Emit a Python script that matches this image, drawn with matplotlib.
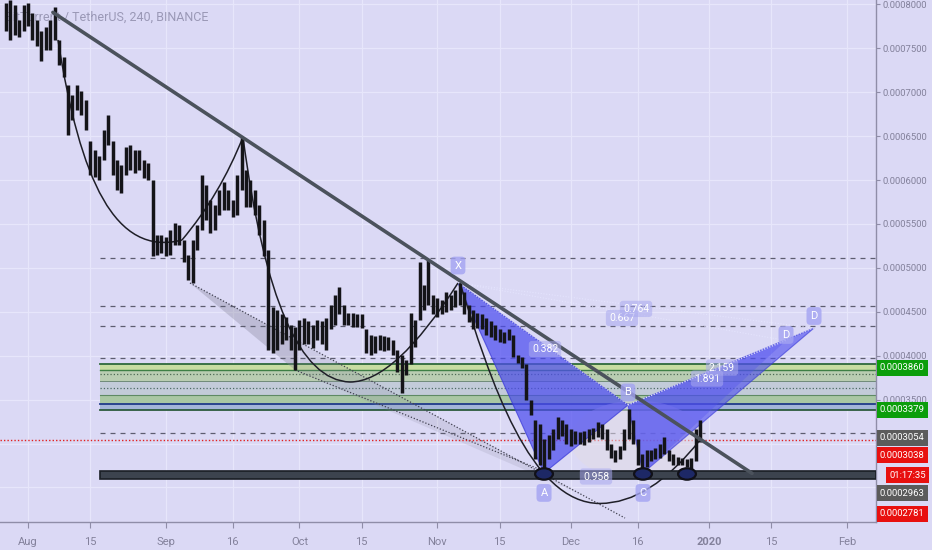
import numpy as np
import matplotlib
matplotlib.use("Agg")
import matplotlib.pyplot as plt
from matplotlib.patches import Polygon, Rectangle, Ellipse, PathPatch
from matplotlib.path import Path

# ---------------- data (prices in units of 1e-4 USDT) ----------------
UNIT = 1e-4
start_day = -5          # day offset from 2019-08-01 of the first daily bar
highs = [8.02, 8.05, 7.99, 7.82, 7.99,
         8.02, 7.90, 7.82, 7.70, 7.74, 7.82, 7.97, 7.59, 7.40, 7.08,
         6.97, 7.08, 7.02, 6.91, 6.45, 6.34, 6.28, 6.57, 6.74, 6.45,
         6.23, 6.17, 6.38, 6.40, 6.34, 6.34, 6.23, 6.19, 6.00, 5.38,
         5.38, 5.35, 5.43, 5.51, 5.49, 5.32, 5.15, 5.32, 5.49, 6.06,
         5.94, 5.77, 5.72, 5.89, 5.98, 5.89, 5.77, 6.06, 6.49, 6.11,
         6.00, 5.89, 5.72, 5.55, 5.20, 4.56, 4.52, 4.47, 4.44, 4.35,
         4.33, 4.41, 4.43, 4.39, 4.35, 4.41, 4.39, 4.43, 4.58, 4.69,
         4.78, 4.58, 4.49, 4.49, 4.47, 4.47, 4.30, 4.24, 4.22, 4.24,
         4.22, 4.21, 4.18, 4.07, 4.01, 3.95, 4.49, 4.41, 5.07, 4.81,
         5.09, 4.69, 4.66, 4.64, 4.72, 4.69, 4.75, 4.83, 4.73, 4.58,
         4.52, 4.49, 4.47, 4.43, 4.39, 4.35, 4.30, 4.27, 4.30, 4.24,
         4.01, 3.99, 3.90, 3.50, 3.27, 3.22, 3.05, 3.10, 3.16, 3.30,
         3.27, 3.22, 3.16, 3.14, 3.13, 3.14, 3.16, 3.18, 3.25, 3.22,
         3.16, 2.99, 2.93, 2.97, 3.16, 3.39, 3.27, 3.05, 2.88, 2.93,
         2.93, 2.95, 2.99, 3.07, 2.93, 2.88, 2.85, 2.84, 2.82, 2.84,
         3.16, 3.27]
lows = [7.70, 7.59, 7.65, 7.63, 7.70,
        7.76, 7.59, 7.53, 7.36, 7.48, 7.48, 7.59, 7.31, 7.17, 6.51,
        6.68, 6.80, 6.74, 6.57, 6.06, 6.03, 6.00, 6.23, 6.40, 6.06,
        5.89, 5.85, 6.06, 6.11, 6.08, 6.11, 6.02, 6.00, 5.13, 5.15,
        5.17, 5.13, 5.15, 5.26, 5.26, 5.07, 4.86, 4.83, 5.20, 5.43,
        5.55, 5.40, 5.43, 5.60, 5.66, 5.66, 5.58, 5.60, 5.89, 5.69,
        5.69, 5.60, 5.38, 5.13, 4.07, 4.03, 4.07, 4.13, 4.18, 4.07,
        3.84, 4.07, 4.13, 4.13, 4.09, 4.18, 4.13, 4.07, 4.30, 4.35,
        4.47, 4.35, 4.35, 4.33, 4.33, 4.32, 4.03, 4.01, 4.03, 4.07,
        4.05, 4.07, 4.01, 3.81, 3.58, 3.78, 3.90, 4.10, 4.41, 4.52,
        4.58, 4.47, 4.44, 4.47, 4.50, 4.52, 4.55, 4.58, 4.47, 4.38,
        4.30, 4.32, 4.30, 4.24, 4.21, 4.18, 4.16, 4.15, 4.18, 3.98,
        3.92, 3.86, 3.50, 3.33, 2.82, 2.76, 2.67, 2.82, 2.93, 3.05,
        3.08, 2.99, 2.97, 2.99, 2.99, 2.98, 3.02, 3.05, 3.07, 3.05,
        2.93, 2.84, 2.79, 2.82, 2.93, 3.05, 2.99, 2.76, 2.67, 2.73,
        2.80, 2.82, 2.84, 2.88, 2.80, 2.76, 2.75, 2.75, 2.73, 2.70,
        2.80, 3.02]

last_price = 3.038
x_ticks = [0, 14, 31, 46, 61, 75, 92, 106, 122, 137, 153, 167, 184]
x_labels = ["Aug", "15", "Sep", "16", "Oct", "15", "Nov", "15", "Dec", "16", "2020", "15", "Feb"]
y_ticks = [2.5, 3.0, 3.5, 4.0, 4.5, 5.0, 5.5, 6.0, 6.5, 7.0, 7.5, 8.0]

# drawings (day offset, price)
trend_days, trend_prices = [5.6, 162.7], [7.91, 2.66]
levels_start_day = 16.2
zone_edges = [3.905, 3.835, 3.79, 3.71, 3.635, 3.555, 3.45, 3.38]
support_band = [2.60, 2.69]
dashed_levels = [5.113, 4.566, 4.338, 3.974, 3.119]
cup1 = [(6.74, 7.596), (11.69, 6.001), (19.55, 5.118), (34.61, 5.318)]
cup1b = [(34.61, 5.318), (43.15, 5.830), (48.31, 6.491)]
cup2a = [(48.31, 6.491), (55.51, 3.723), (72.36, 3.700)]
cup2b = [(72.36, 3.700), (82.47, 3.700), (96.63, 4.828)]
cup3a = [(97.08, 4.828), (103.82, 3.723), (112.81, 2.317), (128.54, 2.317)]
cup3b = [(128.54, 2.317), (139.78, 2.317), (151.01, 3.040)]
line1 = [(36.40, 4.828), (134.16, 2.151)]
line2 = [(60.0, 3.837), (116.18, 2.681)]
shade1 = [(36.40, 4.828), (125.17, 2.402), (60.0, 3.837)]
shade2 = [(36.40, 4.828), (60.0, 4.179), (60.0, 3.837)]
pX, pA, pB, pC = (96.63, 4.828), (115.96, 2.664), (134.83, 3.438), (138.20, 2.664)
pD1, pD2 = (176.63, 4.315), (170.34, 4.173)
ellipse_days = [115.96, 138.20, 148.09]
ellipse_price = 2.653
pattern_labels = [("X", 96.63, 5.027), ("A", 115.96, 2.437), ("B", 134.83, 3.581),
                  ("C", 138.20, 2.437), ("D", 170.34, 4.236), ("D", 176.63, 4.452)]
ratio_labels = [("0.382", 116.18, 4.076), ("0.958", 127.64, 2.624), ("0.667", 133.48, 4.429),
                ("0.764", 136.63, 4.533), ("1.891", 152.58, 3.740), ("2.159", 155.96, 3.865)]
price_tags = [("0.0003860", "#0b9e0b", 368), ("0.0003379", "#0b9e0b", 410),
              ("0.0003054", "#5b5b5b", 438), ("0.0003038", "#e8100f", 455),
              ("01:17:35", "#e8100f", 475), ("0.0002963", "#5b5b5b", 493),
              ("0.0002781", "#e8100f", 514)]

# ---------------- figure ----------------
BG = "#dbd9f5"
FONT = ["Roboto", "DejaVu Sans"]
plt.rcParams["font.family"] = FONT

fig = plt.figure(figsize=(9.32, 5.5), dpi=100)
fig.patch.set_facecolor(BG)
ax = fig.add_axes([0, 28 / 550, 876 / 932, 522 / 550])
ax.set_facecolor(BG)
ax.set_xlim(-6.29, 190.56)
ax.set_ylim(2.106, 8.051)

for s in ["top", "left"]:
    ax.spines[s].set_visible(False)
for s in ["right", "bottom"]:
    ax.spines[s].set_color("#8f8da8")
    ax.spines[s].set_linewidth(1.0)

ax.yaxis.tick_right()
ax.set_yticks(y_ticks)
ax.set_yticklabels([f"{v * UNIT:.7f}" if v >= 3.5 else "" for v in y_ticks])
ax.set_xticks(x_ticks)
ax.set_xticklabels(x_labels)
ax.tick_params(axis="y", length=3, color="#8f8da8", labelcolor="#83819b", labelsize=6.8, pad=2)
ax.tick_params(axis="x", length=4, color="#8f8da8", labelcolor="#83819b", labelsize=8, pad=7)
for lab in ax.get_xticklabels():
    if lab.get_text() == "2020":
        lab.set_fontweight("bold")
ax.grid(True, color="#e7e6fb", lw=0.9)
ax.set_axisbelow(True)

xr = ax.get_xlim()[1]

ax.text(5 / 876, 1 - 17 / 522, "BitTorrent / TetherUS, 240, BINANCE", transform=ax.transAxes,
        color="#9a98b6", fontsize=9, va="center", ha="left", zorder=3.5)

# zone
zone_colors = ["#c8dda2", "#b9cdb2", "#b9cdb2", "#c2cbd9", "#c2cbd9", "#a9c7a4", "#a3b5d9"]
for i, c in enumerate(zone_colors):
    ax.add_patch(Rectangle((levels_start_day, zone_edges[i + 1]), xr - levels_start_day,
                           zone_edges[i] - zone_edges[i + 1], fc=c, ec="none", zorder=1))
edge_styles = [("#2f6a3c", "-", 1.3), ("#3d7f45", "-", 1.0), ("#4d6a55", ":", 0.9),
               ("#6f8a78", "-", 0.7), ("#4d6a65", ":", 0.9), ("#5e8a64", "-", 0.8),
               ("#1f3a8a", "-", 1.3), ("#2b5a3c", "-", 1.3)]
for lv, (c, ls, lw) in zip(zone_edges, edge_styles):
    ax.plot([levels_start_day, xr], [lv, lv], color=c, ls=ls, lw=lw, zorder=1.1)

for lv in dashed_levels:
    ax.plot([levels_start_day, xr], [lv, lv], color="#5d5d70", ls=(0, (4, 4)), lw=0.9, zorder=1.5)

ax.axhline(last_price, color="#e3201e", ls=(0, (1, 1.5)), lw=1.0, zorder=1.6)

# grey wedge + dotted lines
ax.add_patch(Polygon(shade1, closed=True, fc="#8a8aa0", alpha=0.18, ec="none", zorder=1.2))
ax.add_patch(Polygon(shade2, closed=True, fc="#8a8aa0", alpha=0.22, ec="none", zorder=1.2))
for ln in (line1, line2):
    ax.plot([p[0] for p in ln], [p[1] for p in ln], color="#404050", ls=(0, (1, 1.5)), lw=0.9, zorder=1.3)

# harmonic pattern
ax.add_patch(Ellipse((136.85, 3.04), 30, 0.9, fc="#e2dbe6", alpha=0.55, ec="none", zorder=1.7))
ax.add_patch(Polygon([pX, pA, pB], closed=True, fc="#4d4def", alpha=0.72, ec="#3838d8", lw=0.8, zorder=2))
ax.add_patch(Polygon([pB, pC, pD2], closed=True, fc="#5a5af0", alpha=0.35, ec="none", zorder=2))
ax.add_patch(Polygon([pB, pC, pD1], closed=True, fc="#4d4def", alpha=0.62, ec="#3838d8", lw=0.8, zorder=2))
for a, b in [(pX, pB), (pA, pC), (pB, pD1), (pB, pD2), (pX, pD1), (pX, pD2)]:
    ax.plot([a[0], b[0]], [a[1], b[1]], color="#e6e6ff", ls=(0, (1, 1.5)), lw=0.8, alpha=0.8, zorder=2.1)

# arcs
def bez(pts):
    codes = [Path.MOVETO] + ([Path.CURVE4] * 3 if len(pts) == 4 else [Path.CURVE3] * 2)
    return PathPatch(Path(pts, codes), fill=False, ec="#1f1f28", lw=1.1, zorder=3)

for cv in (cup1, cup1b, cup2a, cup2b, cup3a, cup3b):
    ax.add_patch(bez(cv))

# price bars
days = np.arange(start_day, start_day + len(highs))
ax.vlines(days, lows, highs, color="#141418", lw=2.5, zorder=4)

# support band and trend line
ax.add_patch(Rectangle((levels_start_day, support_band[0]), xr - levels_start_day,
                       support_band[1] - support_band[0], fc="#3c434e", ec="#1a1e25", lw=1.2, zorder=4.5))
ax.plot(trend_days, trend_prices, color="#4b525c", lw=2.6, solid_capstyle="round", zorder=5)

for d in ellipse_days:
    ax.add_patch(Ellipse((d, ellipse_price), 4.0, 0.13, fc="#1d2866", ec="#101018", lw=1.6, zorder=6))

for t, d, p in pattern_labels:
    ax.text(d, p, t, color="white", fontsize=8, ha="center", va="center", zorder=7,
            bbox=dict(boxstyle="round,pad=0.35", fc="#a3a3f2", ec="none", alpha=0.8))
for t, d, p in ratio_labels:
    ax.text(d, p, t, color="white", fontsize=7.5, ha="center", va="center", zorder=7,
            bbox=dict(boxstyle="round,pad=0.3", fc="#a9a9ef", ec="none", alpha=0.55))

# right-side price tags
for t, c, ypx in price_tags:
    x0 = 889 if ":" in t else 880
    fig.text(x0 / 932, 1 - ypx / 550, t, color="white", fontsize=6.8, ha="left", va="center",
             zorder=10, bbox=dict(boxstyle="square,pad=0.35", fc=c, ec="none"))

fig.savefig("out.png", dpi=100, facecolor=BG)
